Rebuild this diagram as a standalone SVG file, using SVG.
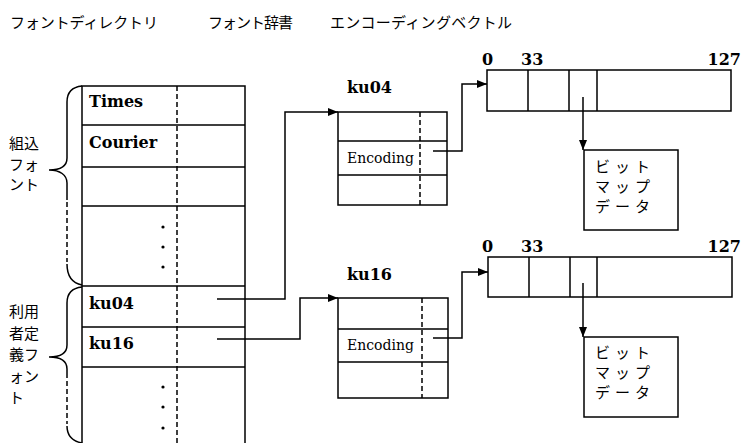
<svg xmlns="http://www.w3.org/2000/svg" width="743" height="443" viewBox="0 0 743 443">
<style>
.ln{fill:none;stroke:#000;stroke-width:1.5}
.ds{fill:none;stroke:#000;stroke-width:1.5;stroke-dasharray:5 3}
.jp{font-family:"Noto Sans CJK JP","Noto Sans",sans-serif;font-size:15px;fill:#000}
.lab{font-family:"Noto Sans CJK JP","Noto Sans",sans-serif;font-size:15px;fill:#000}
.sr{font-family:"DejaVu Serif","Liberation Serif",serif;font-weight:bold;font-size:16px;fill:#000}
.enc{font-family:"DejaVu Serif","Liberation Serif",serif;font-size:14px;fill:#000}
.dot{fill:#000}
</style>
<defs>
<marker id="ah" viewBox="0 0 10 8" refX="10" refY="4" markerWidth="10" markerHeight="8" markerUnits="userSpaceOnUse" orient="auto">
<path d="M0,0 L10,4 L0,8 Z" fill="#000"/>
</marker>
</defs>
<rect width="743" height="443" fill="#fff"/>
<g id="titles">
<text class="jp" x="10" y="28" textLength="148">フォントディレクトリ</text>
<text class="jp" x="208" y="28" textLength="85">フォント辞書</text>
<text class="jp" x="330" y="28" textLength="182">エンコーディングベクトル</text>
</g>
<g id="font-directory">
<path class="ln" d="M82,443 V86 H245 V443"/>
<path class="ln" d="M82,125 H245 M82,167 H245 M82,206 H245 M82,286 H245 M82,327 H245 M82,367 H245"/>
<path class="ds" d="M177,86 V443"/>
<text class="sr" x="89" y="107">Times</text>
<text class="sr" x="89" y="148">Courier</text>
<text class="sr" x="89" y="309">ku04</text>
<text class="sr" x="89" y="349">ku16</text>
<circle class="dot" cx="163" cy="227" r="1.6"/>
<circle class="dot" cx="163" cy="247" r="1.6"/>
<circle class="dot" cx="163" cy="267" r="1.6"/>
<circle class="dot" cx="163" cy="387" r="1.6"/>
<circle class="dot" cx="163" cy="407" r="1.6"/>
<circle class="dot" cx="163" cy="428" r="1.6"/>
</g>
<g id="brace-builtin">
<path class="ln" d="M82,86 C72,87 67,92 67,102 V158 C67,166 60,170 49,170 C60,170 67,175 67,183 V200"/>
<path class="ds" d="M67,202 V262"/>
<path class="ln" d="M67,264 C67,276 72,283 82,285"/>
<text class="lab" x="9" y="149">組込<tspan x="9" dy="20.5">フォ</tspan><tspan x="9" dy="20.5">ント</tspan></text>
</g>
<g id="brace-user">
<path class="ln" d="M82,287 C72,288 67,293 67,303 V345 C67,353 60,357 49,357 C60,357 67,361 67,369 V378"/>
<path class="ds" d="M67,381 V424"/>
<path class="ln" d="M67,426 C67,436 72,441 82,443"/>
<text class="lab" x="9" y="317">利用<tspan x="9" dy="21.5">者定</tspan><tspan x="9" dy="21.5">義フ</tspan><tspan x="9" dy="21.5">ォン</tspan><tspan x="9" dy="21.5">ト</tspan></text>
</g>
<g id="dict-ku04">
<text class="sr" x="347" y="93">ku04</text>
<rect class="ln" x="338" y="112" width="109" height="93"/>
<path class="ln" d="M338,141 H447 M338,175 H447"/>
<path class="ds" d="M420,112 V205"/>
<text class="enc" x="347" y="163">Encoding</text>
</g>
<g id="dict-ku16">
<text class="sr" x="347" y="280">ku16</text>
<rect class="ln" x="338" y="298" width="110" height="100"/>
<path class="ln" d="M338,329 H448 M338,362 H448"/>
<path class="ds" d="M422,298 V398"/>
<text class="enc" x="347" y="350">Encoding</text>
</g>
<g id="vector-1">
<text class="sr" x="482" y="65">0</text>
<text class="sr" x="521" y="65">33</text>
<text class="sr" x="741" y="65" text-anchor="end">127</text>
<rect class="ln" x="487" y="70" width="244" height="41"/>
<path class="ln" d="M528,70 V111 M569,70 V111 M597,70 V111"/>
</g>
<g id="bitmap-1">
<rect class="ln" x="584" y="150" width="94" height="80"/>
<text class="jp" x="595" y="172" letter-spacing="5">ビット<tspan x="595" dy="20">マップ</tspan><tspan x="595" dy="20">データ</tspan></text>
</g>
<g id="vector-2">
<text class="sr" x="482" y="252">0</text>
<text class="sr" x="521" y="252">33</text>
<text class="sr" x="741" y="252" text-anchor="end">127</text>
<rect class="ln" x="488" y="257" width="244" height="40"/>
<path class="ln" d="M529,257 V297 M570,257 V297 M597,257 V297"/>
</g>
<g id="bitmap-2">
<rect class="ln" x="584" y="337" width="94" height="80"/>
<text class="jp" x="595" y="358" letter-spacing="5">ビット<tspan x="595" dy="20">マップ</tspan><tspan x="595" dy="20">データ</tspan></text>
</g>
<g id="connectors">
<path class="ln" d="M217,299 H285 V112 H338" marker-end="url(#ah)"/>
<path class="ln" d="M217,339 H300 V298 H338" marker-end="url(#ah)"/>
<path class="ln" d="M433,151 H462 V84 H487" marker-end="url(#ah)"/>
<path class="ln" d="M433,338 H462 V272 H488" marker-end="url(#ah)"/>
<path class="ln" d="M583,97 V150" marker-end="url(#ah)"/>
<path class="ln" d="M583,283 V337" marker-end="url(#ah)"/>
</g>
</svg>
